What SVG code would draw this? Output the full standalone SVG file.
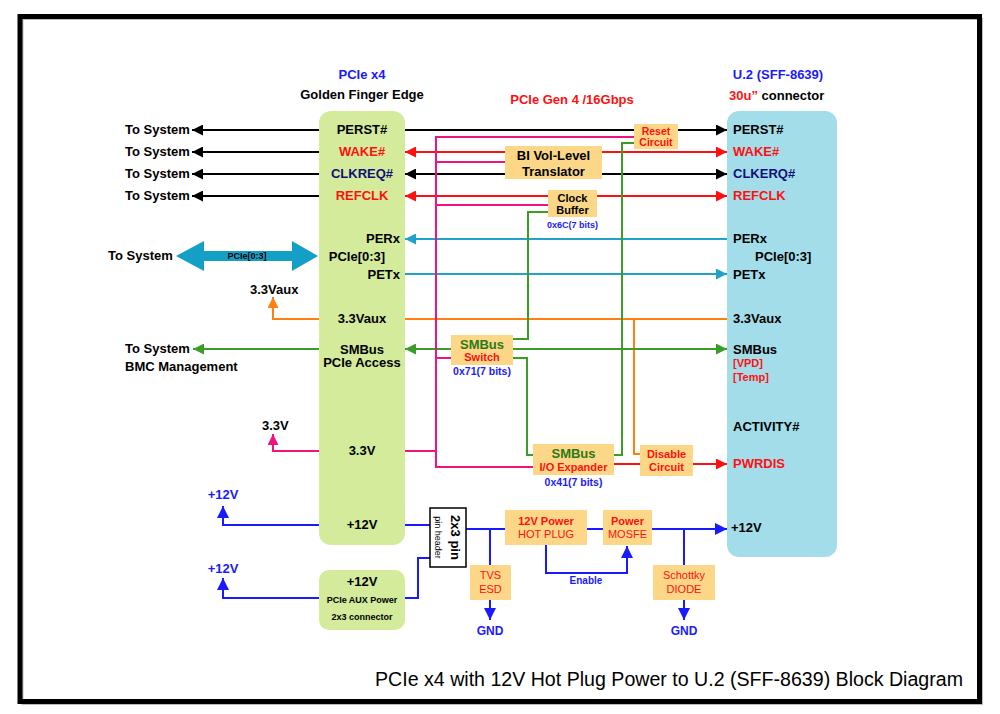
<svg xmlns="http://www.w3.org/2000/svg" width="1000" height="714" viewBox="0 0 1000 714">
<defs>
<style>
text{font-family:"Liberation Sans",Arial,sans-serif;font-weight:bold;font-size:13px;fill:#000}
.c{text-anchor:middle}
.e{text-anchor:end}
.red{fill:#ff1010}
.blue{fill:#1a1aff}
.navy{fill:#10107a}
.grn{fill:#2a7a1a}
.s11{font-size:11px}
.s10{font-size:10.5px}
.s9{font-size:9px}
.nw{font-weight:normal}
.ln{fill:none;stroke-width:2}
.k{stroke:#000}
.r{stroke:#ff1010}
.cy{stroke:#1fa3cb}
.o{stroke:#ff7f10}
.g{stroke:#3c9c28}
.p{stroke:#ee1480}
.b{stroke:#1a1aff}
.gbox{fill:#d3eb9a}
.ubox{fill:#a2dde9}
.obox{fill:#fdd788}
</style>
<marker id="mk" viewBox="0 0 10 10" refX="10" refY="5" markerWidth="11" markerHeight="11" markerUnits="userSpaceOnUse" orient="auto-start-reverse"><path d="M0,0L10,5L0,10z" fill="#000"/></marker>
<marker id="mr" viewBox="0 0 10 10" refX="10" refY="5" markerWidth="11" markerHeight="11" markerUnits="userSpaceOnUse" orient="auto-start-reverse"><path d="M0,0L10,5L0,10z" fill="#ff1010"/></marker>
<marker id="mc" viewBox="0 0 10 10" refX="10" refY="5" markerWidth="11" markerHeight="11" markerUnits="userSpaceOnUse" orient="auto-start-reverse"><path d="M0,0L10,5L0,10z" fill="#1fa3cb"/></marker>
<marker id="mg" viewBox="0 0 10 10" refX="10" refY="5" markerWidth="11" markerHeight="11" markerUnits="userSpaceOnUse" orient="auto-start-reverse"><path d="M0,0L10,5L0,10z" fill="#3c9c28"/></marker>
<marker id="mo" viewBox="0 0 10 10" refX="10" refY="5" markerWidth="11" markerHeight="11" markerUnits="userSpaceOnUse" orient="auto-start-reverse"><path d="M0,0L10,5L0,10z" fill="#ff7f10"/></marker>
<marker id="mp" viewBox="0 0 10 10" refX="10" refY="5" markerWidth="11" markerHeight="11" markerUnits="userSpaceOnUse" orient="auto-start-reverse"><path d="M0,0L10,5L0,10z" fill="#ee1480"/></marker>
<marker id="mb" viewBox="0 0 10 10" refX="10" refY="5" markerWidth="12" markerHeight="12" markerUnits="userSpaceOnUse" orient="auto-start-reverse"><path d="M0,0L10,5L0,10z" fill="#1a1aff"/></marker>
</defs>
<rect x="0" y="0" width="1000" height="714" fill="#fff"/>
<rect x="22.5" y="19" width="959.5" height="685" fill="none" stroke="#bbb" stroke-width="2"/>
<rect x="20" y="16.5" width="959.5" height="685" fill="none" stroke="#000" stroke-width="5"/>

<g id="connectors">
<line class="ln k" x1="319" y1="130" x2="192" y2="130" marker-end="url(#mk)"/>
<line class="ln k" x1="319" y1="152" x2="192" y2="152" marker-end="url(#mk)"/>
<line class="ln k" x1="319" y1="174" x2="192" y2="174" marker-end="url(#mk)"/>
<line class="ln k" x1="319" y1="196" x2="192" y2="196" marker-end="url(#mk)"/>
<polyline class="ln o" points="319,319 273,319 273,297" marker-end="url(#mo)"/>
<line class="ln g" x1="319" y1="349" x2="193" y2="349" marker-end="url(#mg)"/>
<polyline class="ln p" points="319,451 273,451 273,434" marker-end="url(#mp)"/>
<polyline class="ln b" points="319,525 223,525 223,506" marker-end="url(#mb)"/>
<polyline class="ln b" points="319,598 223,598 223,578" marker-end="url(#mb)"/>
<line class="ln k" x1="405" y1="130" x2="727" y2="130" marker-end="url(#mk)"/>
<line class="ln r" x1="405" y1="152" x2="727" y2="152" marker-start="url(#mr)" marker-end="url(#mr)"/>
<line class="ln k" x1="405" y1="174" x2="727" y2="174" marker-start="url(#mk)" marker-end="url(#mk)"/>
<line class="ln r" x1="405" y1="196" x2="727" y2="196" marker-start="url(#mr)" marker-end="url(#mr)"/>
<line class="ln cy" x1="727" y1="239" x2="405" y2="239" marker-end="url(#mc)"/>
<line class="ln cy" x1="405" y1="274" x2="727" y2="274" marker-end="url(#mc)"/>
<line class="ln o" x1="405" y1="319" x2="727" y2="319"/>
<polyline class="ln o" points="634,319 634,454 640,454"/>
<line class="ln g" x1="405" y1="349" x2="727" y2="349" marker-start="url(#mg)" marker-end="url(#mg)"/>
<polyline class="ln p" points="405,451 436,451"/>
<polyline class="ln p" points="634,137 436,137 436,467 533,467"/>
<line class="ln p" x1="436" y1="162" x2="505" y2="162"/>
<line class="ln p" x1="436" y1="205" x2="548" y2="205"/>
<line class="ln p" x1="436" y1="358" x2="451" y2="358"/>
<polyline class="ln g" points="548,212 528,212 528,339 513,339"/>
<polyline class="ln g" points="513,358 527,358 527,455 533,455"/>
<polyline class="ln g" points="614,455 622,455 622,143 634,143"/>
<line class="ln r" x1="614" y1="464" x2="640" y2="464"/>
<line class="ln r" x1="693" y1="464" x2="727" y2="464" marker-end="url(#mr)"/>
<line class="ln b" x1="405" y1="525" x2="430" y2="525"/>
<polyline class="ln b" points="405,598 418,598 418,558 430,558"/>
<line class="ln b" x1="466" y1="529" x2="505" y2="529"/>
<line class="ln b" x1="490" y1="529" x2="490" y2="565"/>
<line class="ln b" x1="490" y1="600" x2="490" y2="620" marker-end="url(#mb)"/>
<line class="ln b" x1="587" y1="529" x2="603" y2="529"/>
<line class="ln b" x1="652" y1="529" x2="727" y2="529" marker-end="url(#mb)"/>
<line class="ln b" x1="684" y1="529" x2="684" y2="565"/>
<line class="ln b" x1="684" y1="600" x2="684" y2="620" marker-end="url(#mb)"/>
<polyline class="ln b" points="546,545 546,573 627,573 627,546" marker-end="url(#mb)"/>
<polygon points="176,256 204,241 204,251 292,251 292,241 318,256 292,271 292,261 204,261 204,271" fill="#14a0c6"/>
</g>

<g id="pcie-edge">
<rect class="gbox" x="319" y="111" width="86" height="434" rx="12"/>
<text class="c" x="362" y="134">PERST#</text>
<text class="c red" x="362" y="156">WAKE#</text>
<text class="c navy" x="362" y="178">CLKREQ#</text>
<text class="c red" x="362" y="200">REFCLK</text>
<text class="e" x="400" y="243">PERx</text>
<text class="c" x="357" y="261">PCIe[0:3]</text>
<text class="e" x="400" y="279">PETx</text>
<text class="c" x="362" y="323">3.3Vaux</text>
<text class="c" x="362" y="354">SMBus</text>
<text class="c" x="362" y="367">PCIe Access</text>
<text class="c" x="362" y="455">3.3V</text>
<text class="c" x="362" y="529">+12V</text>
</g>

<g id="aux-power">
<rect class="gbox" x="319" y="570" width="86" height="60" rx="10"/>
<text class="c" x="362" y="586">+12V</text>
<text class="c s9" x="362" y="603">PCIe AUX Power</text>
<text class="c s9" x="362" y="620">2x3 connector</text>
</g>

<g id="u2">
<rect class="ubox" x="727" y="111" width="110" height="446" rx="12"/>
<text x="733" y="134">PERST#</text>
<text class="red" x="733" y="156">WAKE#</text>
<text class="navy" x="733" y="178">CLKERQ#</text>
<text class="red" x="733" y="200">REFCLK</text>
<text x="733" y="243">PERx</text>
<text x="755" y="261">PCIe[0:3]</text>
<text x="733" y="279">PETx</text>
<text x="733" y="323">3.3Vaux</text>
<text x="733" y="354">SMBus</text>
<text class="red s11" x="733" y="367">[VPD]</text>
<text class="red s11" x="733" y="381">[Temp]</text>
<text x="733" y="431">ACTIVITY#</text>
<text class="red" x="733" y="468">PWRDIS</text>
<text x="731" y="532">+12V</text>
</g>

<g id="reset-circuit">
<rect class="obox" x="634" y="124" width="44" height="25"/>
<text class="c red s10" x="656" y="135">Reset</text>
<text class="c red s10" x="656" y="146">Circuit</text>
</g>
<g id="translator">
<rect class="obox" x="505" y="146" width="97" height="33"/>
<text class="c" x="553.5" y="160">BI Vol-Level</text>
<text class="c" x="553.5" y="176">Translator</text>
</g>
<g id="clock-buffer">
<rect class="obox" x="548" y="190" width="49" height="27"/>
<text class="c s11" x="572.5" y="202">Clock</text>
<text class="c s11" x="572.5" y="214">Buffer</text>
<text class="c blue s9" x="572.5" y="228">0x6C(7 bits)</text>
</g>
<g id="smbus-switch">
<rect class="obox" x="451" y="335" width="62" height="30"/>
<text class="c grn" x="482" y="349">SMBus</text>
<text class="c red s11" x="482" y="361">Switch</text>
<text class="c blue s10" x="482" y="375">0x71(7 bits)</text>
</g>
<g id="io-expander">
<rect class="obox" x="533" y="444" width="81" height="31"/>
<text class="c grn" x="573.5" y="458">SMBus</text>
<text class="c red s11" x="573.5" y="471">I/O Expander</text>
<text class="c blue s10" x="573.5" y="486">0x41(7 bits)</text>
</g>
<g id="disable-circuit">
<rect class="obox" x="640" y="445" width="53" height="31"/>
<text class="c red s11" x="666.5" y="458">Disable</text>
<text class="c red s11" x="666.5" y="471">Circuit</text>
</g>
<g id="pin-header">
<rect x="430" y="508" width="36" height="59" fill="#fff" stroke="#000" stroke-width="1.5"/>
<text class="c" transform="translate(451,537.5) rotate(90)" x="0" y="0">2x3 pin</text>
<text class="c s9 nw" transform="translate(435,537.5) rotate(90)" x="0" y="0">pin header</text>
</g>
<g id="tvs">
<rect class="obox" x="470" y="565" width="41" height="35"/>
<text class="c red s11 nw" x="490.5" y="579">TVS</text>
<text class="c red s11 nw" x="490.5" y="593">ESD</text>
</g>
<g id="hot-plug">
<rect class="obox" x="505" y="510" width="82" height="35"/>
<text class="c red s11" x="546" y="525">12V Power</text>
<text class="c red s11 nw" x="546" y="538">HOT PLUG</text>
</g>
<g id="mosfet">
<rect class="obox" x="603" y="510" width="49" height="35"/>
<text class="c red s11" x="627.5" y="525">Power</text>
<text class="c red s11 nw" x="627.5" y="538">MOSFE</text>
</g>
<g id="schottky">
<rect class="obox" x="653" y="565" width="62" height="35"/>
<text class="c red s11 nw" x="684" y="579">Schottky</text>
<text class="c red s11 nw" x="684" y="593">DIODE</text>
</g>

<g id="labels">
<text class="c blue" x="362" y="79">PCIe x4</text>
<text class="c" x="362" y="99">Golden Finger Edge</text>
<text class="c red" x="572" y="104">PCIe Gen 4 /16Gbps</text>
<text class="c blue" x="778" y="79">U.2 (SFF-8639)</text>
<text x="729" y="100"><tspan class="red">30u”</tspan> connector</text>
<text x="125" y="134">To System</text>
<text x="125" y="156">To System</text>
<text x="125" y="178">To System</text>
<text x="125" y="200">To System</text>
<text x="108" y="260">To System</text>
<text class="c s9" x="247" y="259">PCIe[0:3]</text>
<text x="250" y="294">3.3Vaux</text>
<text x="125" y="353">To System</text>
<text x="125" y="371">BMC Management</text>
<text x="262" y="430">3.3V</text>
<text class="c blue" x="223" y="499">+12V</text>
<text class="c blue" x="223" y="573">+12V</text>
<text class="c blue" style="font-size:12px" x="490" y="635">GND</text>
<text class="c blue" style="font-size:12px" x="684" y="635">GND</text>
<text class="c blue" style="font-size:10px" x="586" y="584">Enable</text>
<text x="375" y="686" textLength="588" lengthAdjust="spacingAndGlyphs" style="font-weight:normal;font-size:20px">PCIe x4 with 12V Hot Plug Power to U.2 (SFF-8639) Block Diagram</text>
</g>
</svg>
